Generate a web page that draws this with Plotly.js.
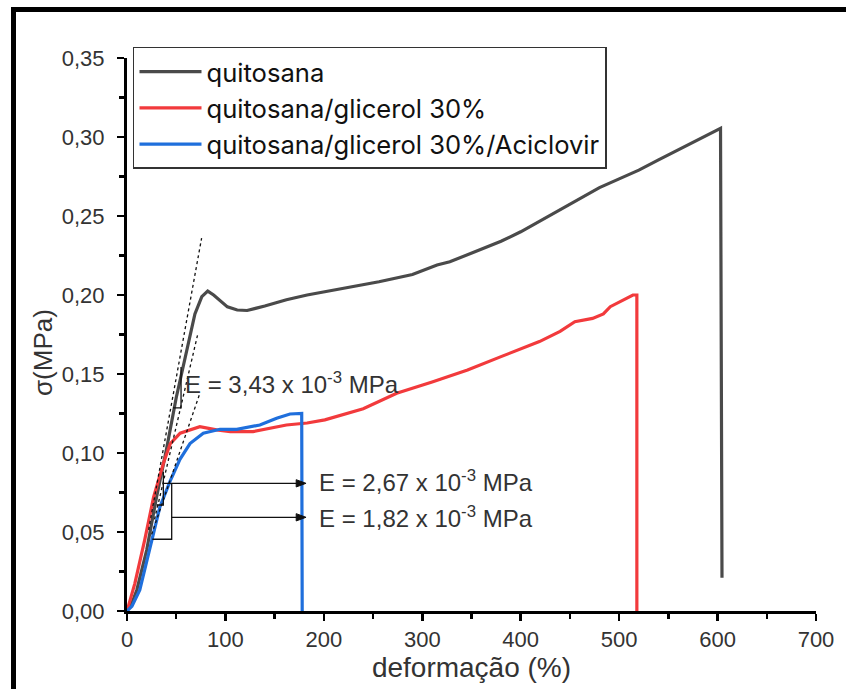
<!DOCTYPE html>
<html>
<head>
<meta charset="utf-8">
<script src="https://cdn.plot.ly/plotly-3.0.1.min.js"></script>
<style>
  html, body { margin: 0; padding: 0; background: #fff; overflow: hidden; }
  #chart { width: 846px; height: 689px; }
  #frame { position: absolute; left: 11px; top: 7px; width: 900px; height: 800px;
           border-top: 5px solid #000; border-left: 5px solid #000; pointer-events: none; }
</style>
</head>
<body>
<div id="chart"></div>
<div id="frame"></div>
<script>
// ---- data (strain %, stress MPa) ----
const seriesNames = ["quitosana", "quitosana/glicerol 30%", "quitosana/glicerol 30%/Aciclovir"];

const strainQuitosana = [0, 5, 10, 20, 30, 40, 50, 60, 69, 76, 82, 88, 95, 102, 112, 122, 140, 162, 183, 210, 230, 256, 290, 315, 328, 360, 380, 400, 420, 440, 460, 480, 500, 520, 540, 560, 580, 603, 604.5];
const stressQuitosana = [0, 0.005, 0.0133, 0.0386, 0.072, 0.102, 0.135, 0.163, 0.188, 0.199, 0.2025, 0.2, 0.196, 0.1925, 0.1905, 0.1902, 0.193, 0.197, 0.2, 0.203, 0.2053, 0.2084, 0.213, 0.219, 0.221, 0.229, 0.234, 0.240, 0.247, 0.2545, 0.2615, 0.268, 0.2735, 0.279, 0.2855, 0.292, 0.298, 0.3055, 0.021];

const strainGlicerol = [0, 3, 8, 18, 27, 37, 44, 54, 64, 74, 91, 105, 128, 162, 183, 201, 240, 274, 310, 346, 380, 419, 440, 455, 473, 484, 491, 503, 514, 518, 518];
const stressGlicerol = [0, 0.006, 0.0175, 0.045, 0.072, 0.0935, 0.106, 0.1125, 0.1146, 0.1167, 0.1146, 0.1135, 0.1135, 0.1177, 0.119, 0.121, 0.128, 0.1378, 0.145, 0.1525, 0.161, 0.1705, 0.177, 0.1831, 0.1852, 0.188, 0.1926, 0.1965, 0.2, 0.2, 0];

const strainAciclovir = [0, 5, 13, 23, 33.5, 43.7, 53.8, 64, 77.5, 94.5, 111.5, 135, 152, 165.6, 177.5, 178];
const stressAciclovir = [0, 0.003, 0.0133, 0.0386, 0.066, 0.082, 0.096, 0.106, 0.1125, 0.115, 0.115, 0.1177, 0.122, 0.1247, 0.1251, 0];

const xTickVals = [0, 100, 200, 300, 400, 500, 600, 700];
const yTickVals = [0, 0.05, 0.10, 0.15, 0.20, 0.25, 0.30, 0.35];

const modulusLabels = ["E = 3,43 x 10<sup>-3</sup> MPa", "E = 2,67 x 10<sup>-3</sup> MPa", "E = 1,82 x 10<sup>-3</sup> MPa"];

const colors = ["#4a4a4a", "#f23a3c", "#1f6fdc"];

const traces = [
  {x: strainQuitosana, y: stressQuitosana, name: seriesNames[0], mode: "lines", line: {color: colors[0], width: 3.2}},
  {x: strainGlicerol, y: stressGlicerol, name: seriesNames[1], mode: "lines", line: {color: colors[1], width: 3.2}},
  {x: strainAciclovir, y: stressAciclovir, name: seriesNames[2], mode: "lines", line: {color: colors[2], width: 3.2}}
];

const tickFont = {family: "'Liberation Sans', Arial, sans-serif", size: 22, color: "#333"};
const blk = {color: "#111", width: 1.3};
const dot = {color: "#111", width: 1.3, dash: "dot"};

// arrow helper (line + filled head), positions only
function arrowShapes(x0, x1, y) {
  return [
    {type: "line", xref: "x", yref: "y", x0: x0, y0: y, x1: x1 - 4, y1: y, line: blk},
    {type: "path", xref: "x", yref: "y",
     path: `M ${x1 - 10},${y + 0.0023} L ${x1},${y} L ${x1 - 10},${y - 0.0023} Z`,
     fillcolor: "#111", line: {color: "#111", width: 1}}
  ];
}

const layout = {
  width: 846, height: 689,
  margin: {l: 127, r: 30, t: 58, b: 78},
  paper_bgcolor: "#fff", plot_bgcolor: "#fff",
  separators: ",.",
  font: {family: "'Liberation Sans', Arial, sans-serif", color: "#333"},
  showlegend: true,
  legend: {
    x: 0.0087, y: 1.02, xanchor: "left", yanchor: "top",
    bgcolor: "#fff", bordercolor: "#333", borderwidth: 1.5,
    font: {family: "Inter, 'Liberation Sans', Arial, sans-serif", size: 25.6, color: "#111"},
    itemwidth: 62, tracegroupgap: 0
  },
  xaxis: {
    range: [0, 700], tickvals: xTickVals, ticktext: xTickVals.map(String),
    showline: true, linecolor: "#000", linewidth: 3, mirror: false,
    ticks: "outside", ticklen: 7, tickwidth: 2.5, tickcolor: "#000",
    minor: {dtick: 50, ticks: "outside", ticklen: 5, tickwidth: 2.5, tickcolor: "#000"},
    showgrid: false, zeroline: false, tickfont: tickFont,
    title: {text: "deformação (%)", font: {family: "'Liberation Sans', Arial, sans-serif", size: 28, color: "#333"}, standoff: 6}
  },
  yaxis: {
    range: [0, 0.35], tickvals: yTickVals, tickformat: ".2f",
    showline: true, linecolor: "#000", linewidth: 3, mirror: false,
    ticks: "outside", ticklen: 7, tickwidth: 2.5, tickcolor: "#000",
    minor: {dtick: 0.025, ticks: "outside", ticklen: 5, tickwidth: 2.5, tickcolor: "#000"},
    showgrid: false, zeroline: false, tickfont: tickFont, ticklabelstandoff: 8,
    title: {text: "σ(MPa)&nbsp;&nbsp;&nbsp;&nbsp;&nbsp;", font: {family: "'Liberation Sans', Arial, sans-serif", size: 26, color: "#333"}, standoff: 2}
  },
  shapes: [
    // tangent (dotted) lines
    {type: "line", xref: "x", yref: "y", x0: 22, y0: 0.0514, x1: 75.8, y1: 0.236, line: dot},
    {type: "line", xref: "x", yref: "y", x0: 28, y0: 0.058, x1: 71.7, y1: 0.1747, line: dot},
    {type: "line", xref: "x", yref: "y", x0: 25, y0: 0.0485, x1: 74, y1: 0.1377, line: dot},
    // brackets
    {type: "path", xref: "x", yref: "y", path: "M 46.7,0.1285 L 54.9,0.1285 L 54.9,0.1544", line: blk},
    {type: "path", xref: "x", yref: "y", path: "M 30.2,0.0671 L 36.9,0.0671 L 36.9,0.0882", line: blk},
    {type: "path", xref: "x", yref: "y", path: "M 25.7,0.0454 L 45.4,0.0454 L 45.4,0.0808", line: blk},
    // arrows to the modulus labels
    ...arrowShapes(36.9, 181.9, 0.0808),
    ...arrowShapes(45.4, 181.9, 0.0593)
  ],
  annotations: [
    {x: 56.9, y: 0.1443, xref: "x", yref: "y", xanchor: "left", yanchor: "middle", showarrow: false,
     text: modulusLabels[0], font: {size: 24, color: "#333"}},
    {x: 193, y: 0.0823, xref: "x", yref: "y", xanchor: "left", yanchor: "middle", showarrow: false,
     text: modulusLabels[1], font: {size: 24, color: "#333"}},
    {x: 193, y: 0.0595, xref: "x", yref: "y", xanchor: "left", yanchor: "middle", showarrow: false,
     text: modulusLabels[2], font: {size: 24, color: "#333"}}
  ]
};

Plotly.newPlot("chart", traces, layout, {staticPlot: true, displayModeBar: false});
</script>
</body>
</html>
